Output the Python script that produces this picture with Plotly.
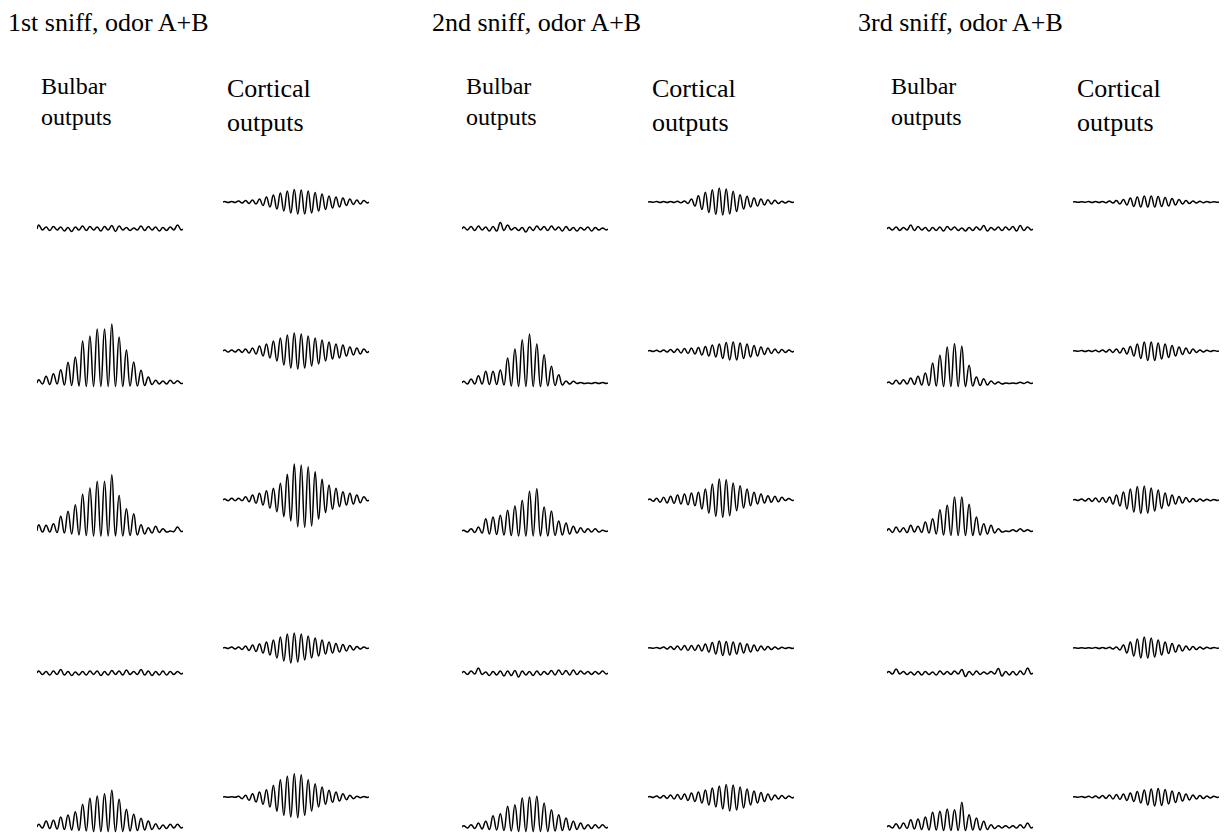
import plotly.graph_objects as go

W, H = 1225, 833

# ---------------- DATA (amplitudes of successive peaks / troughs, pixel-scale units) ----
TITLES = ["1st sniff, odor A+B", "2nd sniff, odor A+B", "3rd sniff, odor A+B"]
LABEL_BULBAR = "Bulbar<br>outputs"
LABEL_CORTICAL = "Cortical<br>outputs"

s1_bulbar_peaks = [
    [4, 2, 2.5, 2, 1.5, 2, 3, 2.5, 2, 2.5, 3.5, 3, 1.5, 1, 3, 2.5, 2, 1.5, 2, 4],
    [3.3, 6.7, 9.3, 13.3, 20.7, 26, 42, 47, 54, 54, 59, 46, 33, 21, 12.7, 6, 2.7, 2, 2.7, 2.3],
    [6.3, 5.7, 7.3, 14.7, 19.7, 26.3, 36.7, 43, 49.7, 49.7, 56.3, 35.7, 22.3, 17.3, 6.3, 3.3, 4.7, 2.3, 0, 4],
    [2, 1.5, 2, 3.5, 1.5, 1, 1.5, 2, 2, 1.5, 2.5, 2, 3, 1.5, 3.5, 2, 1.5, 2, 1.5, 1.5],
    [2.7, 6, 6.7, 10, 12, 15.3, 22.7, 28.7, 31, 33.3, 36.7, 27.7, 17.7, 12.7, 8.7, 6, 3.3, 2, 2.7, 2.7],
]
s1_bulbar_troughs = [
    [-1, -1.5, -1, -2, -2.5, -1, -1.5, -1, -2, -1, -2.5, -1, -1.5, -1, -1.5, -1, -2, -1.5, -1, -1],
    [-1, -1.5, -1, -2, -2.5, -3, -3.5, -3.5, -3.5, -3.5, -3.5, -3.5, -3, -3, -2.5, -1.5, -1, -1, -0.5, -0.5],
    [-1, -1, -1.5, -2, -3, -4, -4.5, -5, -5, -5, -5, -5, -4.5, -4, -3, -2, -1.5, -1, -0.5, -0.5],
    [-1.5, -2, -1.5, -2, -2.5, -2, -2, -1.5, -2.5, -2, -1.5, -2, -1.5, -1.5, -2, -2.5, -2, -2, -1.5, -1],
    [-1, -1.5, -2, -2.5, -3, -3.5, -4, -4.5, -4.5, -4.5, -4.5, -4.5, -4, -3.5, -3, -2.5, -2, -1.5, -1, -1],
]
s1_cortical_peaks = [
    [0.5, 0.5, 1, 1.5, 2, 3, 5, 7, 9, 11, 12.5, 12, 11, 9.5, 8, 6, 5, 4, 3, 2, 1.5],
    [1, 1, 1.5, 2, 3, 5, 7, 10, 13, 16, 18, 17, 15, 13, 11, 9, 7, 6, 4, 3, 2],
    [1, 1.7, 1.7, 3.3, 5, 6.7, 9.3, 11.7, 16.7, 25.7, 36, 35, 33.3, 28.3, 20.7, 15, 11.7, 8.3, 6.7, 5, 3.3],
    [0.5, 1, 1, 2, 3, 4, 6, 8, 11, 14, 15, 14, 12, 10, 8, 6, 4.5, 3.5, 2.5, 1.5, 1],
    [0.3, 0.3, 0.7, 1.7, 3.3, 5, 7.3, 11.7, 17.3, 20.7, 23.3, 22.3, 17.3, 13.3, 10, 6.7, 5, 3.3, 1.7, 0.7, 0.5],
]
s1_cortical_troughs = [
    [-0.5, -0.5, -1, -1.5, -2, -3.5, -5, -7, -9, -11, -12, -12, -11, -9, -7.5, -6, -5, -3.5, -2.5, -2, -1],
    [-1, -1, -1.5, -2, -3, -5, -7, -10, -14, -17, -18, -17, -15, -13, -10, -8, -7, -5, -4, -3, -1.5],
    [-0.7, -0.7, -0.7, -1.7, -3.3, -5, -8.3, -11.7, -16.7, -21, -26.7, -27.3, -26, -19.3, -12.7, -9.3, -6.7, -5, -4, -2.7, -0.7],
    [-0.5, -1, -1.5, -2.5, -3.5, -5, -7, -10, -13, -15, -14, -12, -10, -8, -6, -5, -4, -3, -2, -1, -0.5],
    [-0.3, -0.3, -1.7, -3.3, -5, -7.3, -10, -14.3, -18.3, -20, -20.7, -18.3, -14, -10, -7.3, -5.3, -4, -2.7, -1.7, -0.7, -0.5],
]

s2_bulbar_peaks = [
    [2, 2.5, 3, 2, 2.5, 6.5, 4, 1.5, 1.5, 2, 3, 2.5, 3, 2, 2.5, 1.5, 1.5, 2, 1.5, 1],
    [1.7, 4, 7.3, 11.7, 11.7, 13, 25, 34, 43.3, 49, 39, 28.3, 16.7, 8.3, 2, 1.7, 0.5, 0, 0.5, 0.5],
    [0.7, 2.3, 4, 12.3, 14, 15.7, 20.7, 25, 30.7, 39.7, 42.3, 24, 20, 10, 8, 4.7, 3.3, 2.3, 2.3, 0.7],
    [1.5, 2, 5, 1, 1.5, 2, 2, 2.5, 2, 1.5, 2, 1.5, 2.5, 3, 2.5, 3, 2, 1.5, 1.5, 2],
    [1.3, 2.3, 4, 5.7, 11.3, 13.3, 20.7, 22.3, 29, 30, 30.7, 24, 17.3, 12.3, 9, 5.7, 4, 2.3, 2.3, 2.3],
]
s2_bulbar_troughs = [
    [-1, -1.5, -1, -2, -2, -1.5, -1, -1.5, -3, -1.5, -1, -1.5, -1, -2, -1.5, -2, -1, -2, -1, -1],
    [-1, -1, -1, -1.5, -1.5, -2, -3, -3.5, -3.5, -3.5, -3.5, -3, -2.5, -2, -1, -0.5, -0.5, -0.5, -0.5, -0.5],
    [-1, -1.5, -2, -3, -3.5, -4, -4.5, -5, -5, -5, -5, -5, -4.5, -4, -3, -2, -1.5, -1, -1, -0.5],
    [-1.5, -1, -1.5, -2.5, -2, -3, -2.5, -4, -2, -2.5, -2, -1.5, -2, -1.5, -2, -1.5, -1, -1.5, -1, -1],
    [-1, -1.5, -2, -2.5, -3, -3.5, -4, -4.5, -4.5, -4.5, -4.5, -4.5, -4, -3.5, -3, -2.5, -2, -1.5, -1, -1],
]
s2_cortical_peaks = [
    [0.3, 0.5, 0.5, 0.5, 0.7, 1, 3, 6.3, 9.7, 12.3, 14, 13, 10.7, 7.3, 5.7, 4, 3, 2.3, 1.7, 0.7, 0.7],
    [0.5, 0.7, 1, 1.5, 2, 2.5, 3, 3.5, 4.5, 6, 7, 8.5, 9, 8, 7, 5.5, 4, 3, 2, 1.5, 1],
    [1, 1.7, 2.7, 3.7, 5, 6, 7, 7.7, 11, 16, 21, 20.3, 17, 14.3, 11, 7.7, 6, 4.3, 3.7, 2.7, 1.5],
    [0.3, 0.5, 1, 1.5, 2, 2.5, 2.5, 3, 4, 5.5, 7, 6.5, 6, 5, 4, 3, 2, 1.5, 1, 0.7, 0.5],
    [0.5, 1, 1.5, 2, 2.5, 3, 4, 5, 7, 9, 11, 12.5, 12, 10, 8, 6, 4.5, 3, 2, 1.5, 1],
]
s2_cortical_troughs = [
    [-0.3, -0.5, -0.5, -0.5, -0.7, -1.5, -4, -7.5, -10.5, -12.5, -13, -12, -9.5, -7, -5, -4, -3, -2, -1.5, -1, -0.5],
    [-0.5, -0.7, -1, -1.5, -2, -2.5, -3, -4, -5, -6, -7.5, -9, -9, -7.5, -6, -5, -3.5, -2.5, -2, -1.5, -1],
    [-1.3, -2.3, -3, -3.3, -4, -4.7, -5.7, -9, -13, -16.3, -17.3, -15.7, -10.7, -8, -5.7, -4, -3, -2.3, -1.7, -0.5, -0.5],
    [-0.3, -0.5, -1, -1.5, -2, -2.5, -2.5, -3, -4, -6, -7.5, -7, -6, -5, -4, -3, -2, -1.5, -1, -0.5, -0.5],
    [-0.5, -1, -1.5, -2, -2.5, -3.5, -4.5, -6, -8, -10, -12, -14, -13, -11, -8, -6, -4.5, -3, -2, -1.5, -1],
]

s3_bulbar_peaks = [
    [1.5, 2, 1.5, 4, 2.5, 1.5, 1.5, 2, 2.5, 2, 1, 1.5, 2, 3.5, 1.5, 2, 2, 2.5, 3.5, 2],
    [1, 2.7, 3.3, 5, 6.7, 10, 20, 27.7, 36, 39.3, 36.7, 17.7, 6, 4.3, 2, 1, 0, 0, 0.7, 1],
    [2.3, 4, 3.3, 5.7, 4.7, 9, 12.3, 21.3, 25.7, 34, 34, 26.7, 14, 7.3, 5.7, 2.3, 0, 1.3, 2.3, 1.3],
    [1.5, 4, 1.5, 1, 1.5, 1.5, 1, 2, 1.5, 2, 3.5, 1.5, 2, 1, 1.5, 4.5, 1.5, 1.5, 2, 5],
    [1.3, 3.3, 4, 7.3, 8, 10, 14.7, 15.7, 18, 17.3, 24.7, 12.3, 9, 5.7, 2.3, 1.3, 1.3, 1.3, 2.3, 4],
]
s3_bulbar_troughs = [
    [-1, -1.5, -1, -1.5, -1, -2, -1.5, -2, -1, -1.5, -2, -1.5, -1, -2, -1, -1.5, -1, -2, -1.5, -1],
    [-1, -1, -1, -1.5, -2, -2.5, -3, -3.5, -3.5, -3.5, -3.5, -3, -2.5, -2, -1, -1, -0.5, -0.5, -0.5, -0.5],
    [-1.5, -1, -1.5, -1, -1.5, -2, -3, -4, -4.5, -4.5, -4.5, -4.5, -4, -3, -2, -1, -0.5, -0.5, -0.5, -0.5],
    [-1, -1, -1.5, -2, -2, -1.5, -2, -1.5, -1.5, -1, -3.5, -2, -1.5, -1, -1, -3, -2, -2, -1.5, -1],
    [-1, -1.5, -1.5, -2, -2.5, -3, -3, -3.5, -3.5, -3.5, -3.5, -3, -3, -2.5, -1.5, -1, -1, -1, -1, -1],
]
s3_cortical_peaks = [
    [0.3, 0.3, 0.5, 0.5, 0.5, 1, 1.5, 2.5, 4, 5, 6, 6, 5.5, 4.5, 3.5, 2.5, 1.5, 1, 0.7, 0.5, 0.3],
    [0.3, 0.5, 0.5, 0.7, 1, 1.5, 2, 3, 4.5, 7, 9, 9, 8, 7, 5.5, 4, 3, 2, 1, 0.7, 0.5],
    [0.5, 1, 1.5, 2, 2.5, 3, 5, 8, 11, 13.5, 14, 12, 10, 7, 5, 3.5, 2.5, 1.5, 1, 0.7, 0.5],
    [0.2, 0.3, 0.3, 0.5, 0.5, 0.7, 1, 3, 6, 9, 11, 10, 8, 6, 4.5, 3, 2, 1.5, 1, 0.7, 0.5],
    [0.3, 0.5, 0.7, 1, 1.5, 2, 2.5, 3, 4, 5.5, 7, 8, 8.5, 7.5, 6, 4.5, 3, 2, 1.5, 1, 0.7],
]
s3_cortical_troughs = [
    [-0.3, -0.3, -0.5, -0.5, -0.7, -1, -2, -3, -4.5, -5, -5, -5, -4.5, -4, -3, -2, -1.5, -1, -0.7, -0.5, -0.3],
    [-0.3, -0.5, -0.5, -0.7, -1, -1.5, -2, -3, -5, -7.5, -9.5, -9.5, -8, -6.5, -5, -3.5, -2.5, -1.5, -1, -0.5, -0.3],
    [-0.5, -1, -1.5, -2, -2.5, -4, -6, -9, -12, -13.5, -13, -11, -8.5, -6, -4, -3, -2, -1.5, -1, -0.7, -0.5],
    [-0.2, -0.3, -0.3, -0.5, -0.5, -1, -2, -5, -8, -10, -10, -9, -7, -5.5, -4, -3, -2, -1.5, -1, -0.5, -0.3],
    [-0.3, -0.5, -0.7, -1, -1.5, -2, -2.5, -3.5, -4.5, -6, -8, -9, -8.5, -7, -5.5, -4, -3, -2, -1.5, -1, -0.5],
]

# ---------------- LAYOUT (pixel geometry) ----------------
TITLE_X = [6, 430, 856]
BULBAR_X = [37, 462, 887]
CORTICAL_X = [223, 648, 1073]
TRACE_W = 146
BULBAR_BASE = [229, 383, 531, 673, 827]
CORTICAL_BASE = [202, 351, 500, 648, 797]
ABOVE, BELOW = 70, 45
FONT = "Liberation Serif, DejaVu Serif, serif"

panels = [
    (s1_bulbar_peaks, s1_bulbar_troughs, s1_cortical_peaks, s1_cortical_troughs),
    (s2_bulbar_peaks, s2_bulbar_troughs, s2_cortical_peaks, s2_cortical_troughs),
    (s3_bulbar_peaks, s3_bulbar_troughs, s3_cortical_peaks, s3_cortical_troughs),
]

fig = go.Figure()
layout = {}
k = 0


def add_trace(peaks, troughs, x0, base):
    global k
    k += 1
    n = len(peaks)
    xs, ys = [0.0], [0.0]
    for i, (p, t) in enumerate(zip(peaks, troughs)):
        xs += [i + 0.25, i + 0.75]
        ys += [p, t]
    xs.append(float(n))
    ys.append(0.0)
    sfx = "" if k == 1 else str(k)
    top = base - ABOVE
    bot = min(base + BELOW, H)
    layout["xaxis" + sfx] = dict(domain=[x0 / W, (x0 + TRACE_W) / W], range=[0, n],
                                 visible=False, fixedrange=True, anchor="y" + sfx)
    layout["yaxis" + sfx] = dict(domain=[1 - bot / H, 1 - top / H], range=[-(bot - base), ABOVE],
                                 visible=False, fixedrange=True, anchor="x" + sfx)
    fig.add_trace(go.Scatter(x=xs, y=ys, mode="lines", xaxis="x" + sfx, yaxis="y" + sfx,
                             line=dict(color="black", width=1.5, shape="spline", smoothing=1.3),
                             hoverinfo="skip", showlegend=False, cliponaxis=False))


for s, (bp, bt, cp, ct) in enumerate(panels):
    for r in range(5):
        add_trace(bp[r], bt[r], BULBAR_X[s], BULBAR_BASE[r])
        add_trace(cp[r], ct[r], CORTICAL_X[s], CORTICAL_BASE[r])

annotations = []


def txt(text, x, y, size):
    annotations.append(dict(text=text, x=x / W, y=1 - y / H, xref="paper", yref="paper",
                            xanchor="left", yanchor="middle", align="left", showarrow=False,
                            font=dict(family=FONT, size=size, color="black")))


for s in range(3):
    txt(TITLES[s], TITLE_X[s], 23, 26)
    txt(LABEL_BULBAR, BULBAR_X[s] + 2, 101, 24)
    txt(LABEL_CORTICAL, CORTICAL_X[s] + 2, 105, 26)

fig.update_layout(width=W, height=H, margin=dict(l=0, r=0, t=0, b=0),
                  paper_bgcolor="white", plot_bgcolor="rgba(0,0,0,0)",
                  showlegend=False, annotations=annotations, **layout)

fig.write_html("out.html", config={"displayModeBar": False},
               post_script="document.body.style.margin='0';document.body.style.overflow='hidden';")
